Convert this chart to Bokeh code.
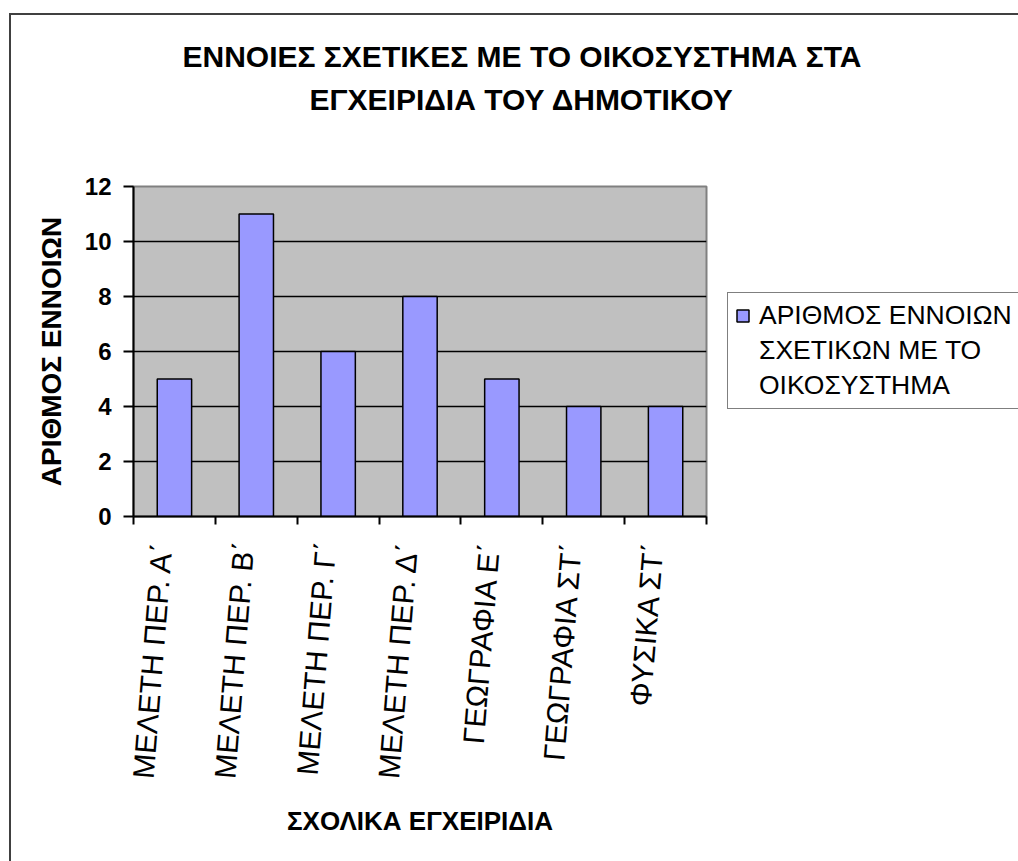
from bokeh.plotting import figure
from bokeh.models import FixedTicker, Title, Legend, LegendItem
from bokeh.embed import file_html
from bokeh.resources import INLINE

categories = ["ΜΕΛΕΤΗ ΠΕΡ. Α΄", "ΜΕΛΕΤΗ ΠΕΡ. Β΄", "ΜΕΛΕΤΗ ΠΕΡ. Γ΄", "ΜΕΛΕΤΗ ΠΕΡ. Δ΄",
              "ΓΕΩΓΡΑΦΙΑ Ε΄", "ΓΕΩΓΡΑΦΙΑ ΣΤ΄", "ΦΥΣΙΚΑ ΣΤ΄"]
counts = [5, 11, 6, 8, 5, 4, 4]
y_ticks = [0, 2, 4, 6, 8, 10, 12]
title_lines = ["ΕΝΝΟΙΕΣ ΣΧΕΤΙΚΕΣ ΜΕ ΤΟ ΟΙΚΟΣΥΣΤΗΜΑ ΣΤΑ", "ΕΓΧΕΙΡΙΔΙΑ ΤΟΥ ΔΗΜΟΤΙΚΟΥ"]
legend_lines = ["ΑΡΙΘΜΟΣ ΕΝΝΟΙΩΝ", "ΣΧΕΤΙΚΩΝ ΜΕ ΤΟ", "ΟΙΚΟΣΥΣΤΗΜΑ"]
x_title = "ΣΧΟΛΙΚΑ ΕΓΧΕΙΡΙΔΙΑ"
y_title = "ΑΡΙΘΜΟΣ ΕΝΝΟΙΩΝ"

FONT = "Liberation Sans"
n = len(categories)
positions = [i + 0.5 for i in range(n)]
label_positions = [i + 0.35 for i in range(n)]   # rotated labels sit slightly left of bar centres
boundaries = list(range(n + 1))

p = figure(frame_width=573, frame_height=330, x_range=(0, n), y_range=(0, 12),
           output_backend="svg", toolbar_location=None,
           min_border_left=133, min_border_right=312, min_border_top=186, min_border_bottom=345,
           background_fill_color="#C0C0C0", border_fill_color=None,
           outline_line_color="#808080", outline_line_width=2)
p.styles = {"background": "linear-gradient(#404040, #404040) 9px 13px / 2px 100% no-repeat, "
                          "linear-gradient(#404040, #404040) 9px 13px / 100% 2px no-repeat, white"}

bars = p.vbar(x=positions, top=counts, width=0.42, fill_color="#9999FF",
              line_color="black", line_width=1.5)
dummy1 = p.vbar(x=[], top=[], width=0.1, fill_alpha=0, line_alpha=0)
dummy2 = p.vbar(x=[], top=[], width=0.1, fill_alpha=0, line_alpha=0)

# x axis
xa = p.xaxis[0]
xa.ticker = FixedTicker(ticks=label_positions, minor_ticks=boundaries)
xa.major_label_overrides = {pos: c for pos, c in zip(label_positions, categories)}
xa.major_tick_line_color = None
xa.major_tick_out = 8
xa.major_tick_in = 0
xa.minor_tick_line_color = "black"
xa.minor_tick_line_width = 2
xa.minor_tick_out = 8
xa.minor_tick_in = 0
xa.major_label_orientation = 1.49
xa.major_label_standoff = 17
xa.major_label_text_font = FONT
xa.major_label_text_font_size = "30px"
xa.major_label_text_color = "black"
xa.axis_line_color = "black"
xa.axis_line_width = 2
xa.axis_label = x_title
xa.axis_label_text_font = FONT
xa.axis_label_text_font_size = "26px"
xa.axis_label_text_font_style = "bold"
xa.axis_label_text_color = "black"
xa.axis_label_standoff = 22

# y axis
ya = p.yaxis[0]
ya.ticker = FixedTicker(ticks=y_ticks, minor_ticks=[])
ya.major_tick_line_color = "black"
ya.major_tick_line_width = 2
ya.major_tick_out = 10
ya.major_tick_in = 0
ya.major_label_standoff = 12
ya.major_label_text_font = FONT
ya.major_label_text_font_size = "24px"
ya.major_label_text_font_style = "bold"
ya.major_label_text_color = "black"
ya.axis_line_color = "black"
ya.axis_line_width = 2
ya.axis_label = y_title
ya.axis_label_text_font = FONT
ya.axis_label_text_font_size = "28px"
ya.axis_label_text_font_style = "bold"
ya.axis_label_text_color = "black"
ya.axis_label_standoff = 15

p.xgrid.grid_line_color = None
p.ygrid.grid_line_color = "black"
p.ygrid.grid_line_width = 1.5

# title: spacer nearest the frame, then line 2, then line 1
p.add_layout(Title(text=" ", text_font_size="1px", standoff=64), "above")
p.add_layout(Title(text=title_lines[1], align="left", offset=176, standoff=8,
                   text_font=FONT, text_font_size="30px", text_font_style="bold",
                   text_color="black"), "above")
p.add_layout(Title(text=title_lines[0], align="left", offset=49, standoff=8,
                   text_font=FONT, text_font_size="30px", text_font_style="bold",
                   text_color="black"), "above")

# legend
legend = Legend(items=[LegendItem(label=legend_lines[0], renderers=[bars]),
                       LegendItem(label=legend_lines[1], renderers=[dummy1]),
                       LegendItem(label=legend_lines[2], renderers=[dummy2])],
                location=(21, 107), orientation="vertical", ncols=1,
                label_text_font=FONT, label_text_font_size="26.5px", label_text_color="black",
                glyph_width=15, glyph_height=15, padding=7, spacing=4, label_standoff=9,
                border_line_color="black", border_line_width=1.5,
                background_fill_color="white", background_fill_alpha=1, margin=0)
p.add_layout(legend, "right")

open("out.html", "w").write(file_html(p, INLINE))
